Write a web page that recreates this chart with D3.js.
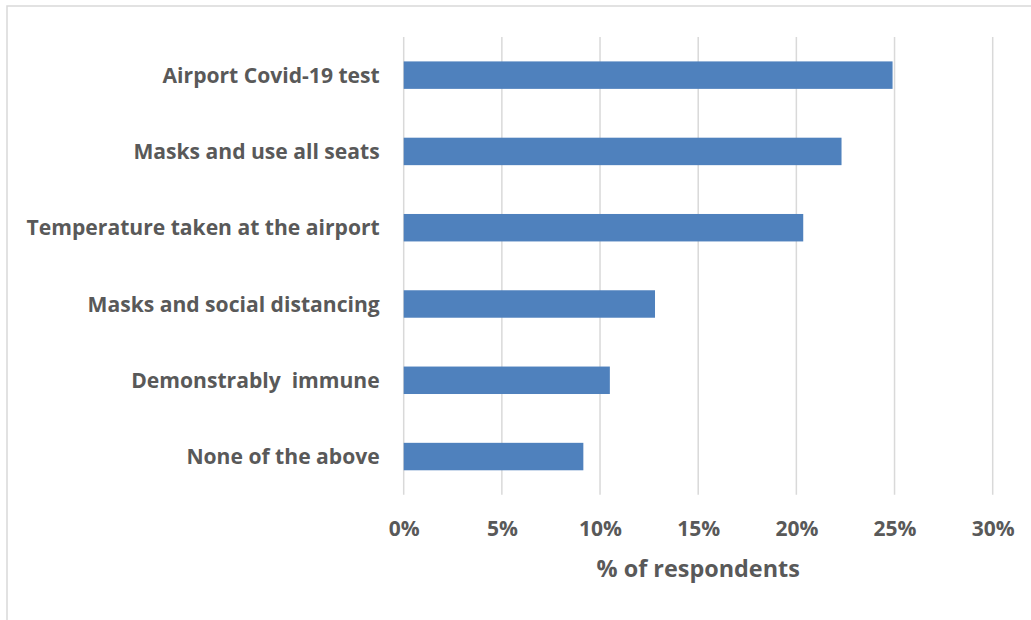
<!DOCTYPE html>
<html>
<head>
<meta charset="utf-8">
<script src="https://cdn.jsdelivr.net/npm/d3@7/dist/d3.min.js"></script>
<style>
  html, body { margin: 0; padding: 0; background: #fff; }
  svg { display: block; }
  text { font-family: "Open Sans", Lato, sans-serif; font-weight: 700; fill: #595959; white-space: pre; }
</style>
</head>
<body>
<svg id="chart" width="1031" height="620"></svg>
<script>
// Measures that would make respondents comfortable flying
const categories = [
  "Airport Covid-19 test",
  "Masks and use all seats",
  "Temperature taken at the airport",
  "Masks and social distancing",
  "Demonstrably  immune",
  "None of the above"
];
const values = [24.9, 22.3, 20.35, 12.8, 10.5, 9.15];
const tickValues = [0, 5, 10, 15, 20, 25, 30];
const axisTitle = "% of respondents";

const svg = d3.select("#chart");
const W = 1031, H = 620;
const plot = { left: 403.7, right: 992.7, top: 37, bottom: 494.7 };

// chart frame
svg.append("rect")
  .attr("x", 7).attr("y", 6)
  .attr("width", W + 10).attr("height", H + 10)
  .attr("fill", "#fff")
  .attr("stroke", "#d9d9d9").attr("stroke-width", 1.5);

const x = d3.scaleLinear().domain([0, 30]).range([plot.left, plot.right]);
const y = d3.scaleBand().domain(categories).range([plot.top, plot.bottom]).paddingInner(0.64).paddingOuter(0.32);

// vertical gridlines
svg.append("g")
  .selectAll("line")
  .data(tickValues)
  .join("line")
  .attr("x1", d => x(d)).attr("x2", d => x(d))
  .attr("y1", plot.top).attr("y2", plot.bottom)
  .attr("stroke", "#d9d9d9").attr("stroke-width", 1.5);

// bars
svg.append("g")
  .selectAll("rect")
  .data(values)
  .join("rect")
  .attr("x", x(0))
  .attr("y", (d, i) => y(categories[i]))
  .attr("width", d => x(d) - x(0))
  .attr("height", y.bandwidth())
  .attr("fill", "#4f81bd");

// bottom axis labels
const xAxis = d3.axisBottom(x)
  .tickValues(tickValues)
  .tickFormat(d => d + "%")
  .tickSize(0)
  .tickPadding(0);
const gx = svg.append("g")
  .attr("transform", `translate(0,${plot.bottom})`)
  .call(xAxis);
gx.select(".domain").remove();
gx.selectAll("text")
  .attr("dy", null)
  .attr("y", 41.5)
  .style("font-size", "21px")
  .attr("fill", "#595959");

// category labels
const yAxis = d3.axisLeft(y).tickSize(0).tickPadding(0);
const gy = svg.append("g")
  .attr("transform", `translate(${plot.left - 24},0)`)
  .call(yAxis);
gy.select(".domain").remove();
gy.selectAll("text")
  .attr("dy", "0.36em")
  .style("font-size", "21.1px")
  .attr("fill", "#595959");

// axis title
svg.append("text")
  .attr("x", (plot.left + plot.right) / 2)
  .attr("y", 577)
  .attr("text-anchor", "middle")
  .style("font-size", "23.4px")
  .text(axisTitle);
</script>
</body>
</html>
